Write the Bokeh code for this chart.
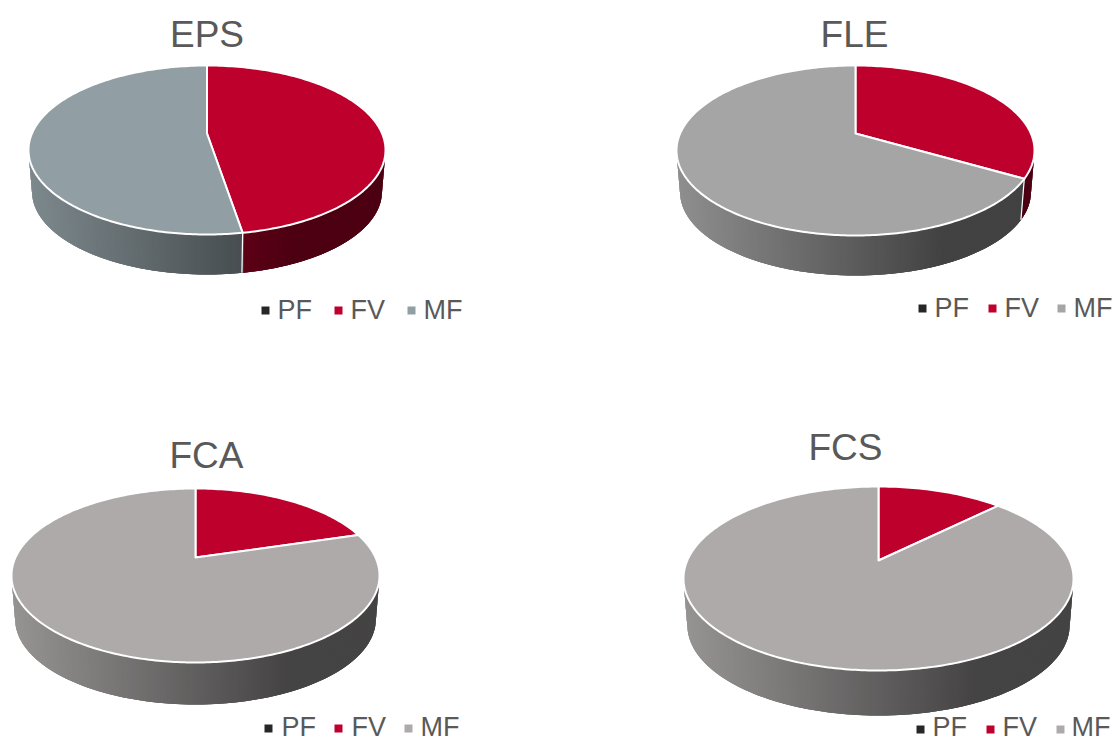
import math
from bokeh.plotting import figure
from bokeh.models import Range1d
from bokeh.core.properties import value
from bokeh.embed import file_html
from bokeh.resources import INLINE

# ---- chart data (shares in percent) ----
TITLES = ["EPS", "FLE", "FCA", "FCS"]
CATEGORIES = ["PF", "FV", "MF"]
PF_VALUES = [0.0, 0.0, 0.0, 0.0]
FV_VALUES = [46.8, 30.4, 17.3, 10.5]
MF_VALUES = [53.2, 69.6, 82.7, 89.5]
PF_COLOR = "#262626"
FV_COLOR = "#be002d"
MF_COLORS = ["#919ea3", "#a5a5a5", "#aeaaaa", "#aeaaaa"]

# ---- layout: pixel geometry of each pie and its labels ----
CX = [206.5, 855, 195, 878]
CY = [149.5, 150, 575, 578]
RX = [178.5, 179, 184, 195]
RY = [84.5, 85, 87, 92]
BOTTOM = [274, 275, 704, 715]
APEX = [133, 133, 557, 560]
TITLE_X = [206.5, 854, 206, 845]
TITLE_Y = [33.5, 33.5, 454.5, 446.5]
LEG_Y = [309, 307.5, 726, 726]
LEG_SQ_X = [[265, 338, 411], [922, 992, 1061], [268, 338, 408], [920, 990, 1060]]
LEG_SQ_Y = [310, 308, 728, 729]
LEG_TX_X = [[277, 350, 423], [934, 1004, 1073], [281, 351, 420], [932, 1002, 1071]]

W_K = 0.98
FONT = value("Liberation Sans")
TXT = "#595959"

p = figure(width=1113, height=740, output_backend="svg", toolbar_location=None,
           x_range=Range1d(0, 1113), y_range=Range1d(740, 0), min_border=0)
p.axis.visible = False
p.grid.visible = False
p.outline_line_color = None
p.background_fill_color = "white"


def shade(hex_color, f):
    r, g, b = [int(hex_color[i:i + 2], 16) for i in (1, 3, 5)]
    return "#%02x%02x%02x" % (int(r * f), int(g * f), int(b * f))


def factor(frac):
    return 0.87 - 0.47 * min(frac / 0.75, 1.0)


for i, title in enumerate(TITLES):
    cx, cy, rx, ry = CX[i], CY[i], RX[i], RY[i]
    k_ry = ry * W_K
    depth = BOTTOM[i] - cy - k_ry
    shares = [PF_VALUES[i], FV_VALUES[i], MF_VALUES[i]]
    colors = [PF_COLOR, FV_COLOR, MF_COLORS[i]]
    total = sum(shares)

    # slice angles, clockwise from 12 o'clock
    bounds = [0.0]
    for s in shares:
        bounds.append(bounds[-1] + 360.0 * s / total)

    # side wall: bands overlap forwards, each painted over the last, so no seams show
    wx, wy, wc = [], [], []
    t = 90.0
    while t < 270.0:
        t2 = min(t + 3.0, 270.0)
        mid = t + 0.5
        col = colors[-1]
        for j in range(3):
            if bounds[j] <= mid < bounds[j + 1]:
                col = colors[j]
        ang = [math.radians(t), math.radians((t + t2) / 2), math.radians(t2)]
        xs = [cx + rx * math.sin(a) for a in ang] + [cx + rx * W_K * math.sin(a) for a in reversed(ang)]
        ys = [cy - ry * math.cos(a) for a in ang] + [cy + depth - k_ry * math.cos(a) for a in reversed(ang)]
        frac = (rx + rx * math.sin(math.radians(mid))) / (2 * rx)
        wx.append(xs)
        wy.append(ys)
        wc.append(shade(col, factor(frac)))
        t += 1.0
    p.patches(wx, wy, fill_color=wc, line_color=None)

    # seams between slices on the wall
    for bd in bounds[1:-1]:
        if 90 < bd < 270:
            a = math.radians(bd)
            p.line([cx + rx * math.sin(a), cx + rx * W_K * math.sin(a)],
                   [cy - ry * math.cos(a), cy + depth - k_ry * math.cos(a)],
                   line_color="white", line_width=1.2)

    # top face
    for j in range(3):
        if shares[j] <= 0:
            continue
        n = max(2, int(bounds[j + 1] - bounds[j]))
        ang = [math.radians(bounds[j] + (bounds[j + 1] - bounds[j]) * q / n) for q in range(n + 1)]
        xs = [cx] + [cx + rx * math.sin(a) for a in ang]
        ys = [APEX[i]] + [cy - ry * math.cos(a) for a in ang]
        p.patch(xs, ys, fill_color=colors[j], line_color="white", line_width=2, line_join="round")

    # title
    p.text([TITLE_X[i]], [TITLE_Y[i]], text=[title], text_font=FONT, text_font_size="37px",
           text_color=TXT, text_align="center", text_baseline="middle")

    # legend
    p.scatter(LEG_SQ_X[i], [LEG_SQ_Y[i]] * 3, marker="square", size=8,
              fill_color=colors, line_color=None)
    p.text(LEG_TX_X[i], [LEG_Y[i]] * 3, text=CATEGORIES, text_font=FONT, text_font_size="27px",
           text_color=TXT, text_align="left", text_baseline="middle")

open("out.html", "w").write(file_html(p, INLINE))
